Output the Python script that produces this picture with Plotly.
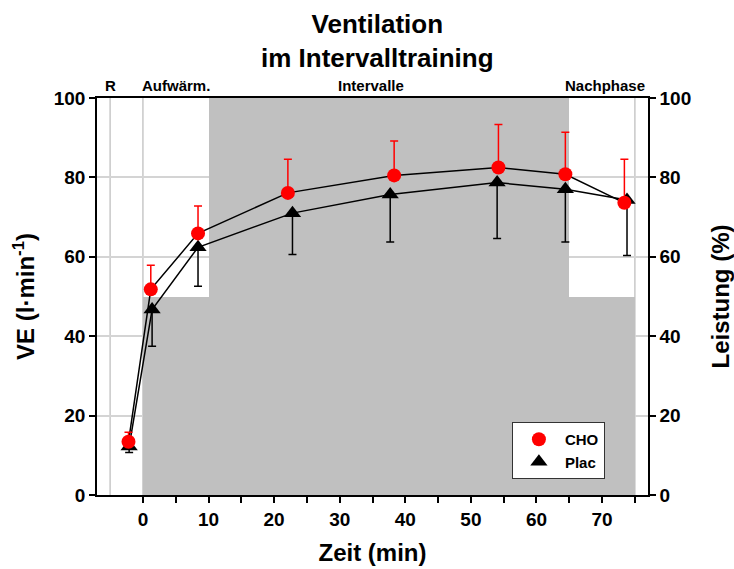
import plotly.graph_objects as go

# ---- data ----
time_cho = [-2.2, 1.2, 8.4, 22.1, 38.3, 54.2, 64.4, 73.4]
ve_cho = [13.4, 51.8, 65.9, 76.1, 80.5, 82.5, 80.8, 73.6]
sd_cho = [2.4, 6.1, 6.9, 8.5, 8.7, 10.8, 10.6, 11.0]

time_plac = [-2.1, 1.4, 8.4, 22.8, 37.7, 54.0, 64.4, 73.8]
ve_plac = [12.2, 46.7, 62.4, 71.0, 75.7, 78.7, 77.0, 74.3]
sd_plac = [1.5, 9.2, 9.8, 10.4, 12.0, 14.1, 13.3, 14.0]

# work-load phases (Leistung %)
phase_start = [0, 10, 65]
phase_end = [10, 65, 75]
leistung = [50, 100, 50]

phase_names = ["R", "Aufwärm.", "Intervalle", "Nachphase"]
phase_label_x = [-5, 5, 34.7, 70.5]
phase_lines = [-5, 0, 75]

x_ticks = list(range(0, 80, 5))
y_ticks = [0, 20, 40, 60, 80, 100]

FONT = "Liberation Sans, Arial, Helvetica, sans-serif"
TICK = 19
AXT = 24

fig = go.Figure()

centers = [(a + b) / 2 for a, b in zip(phase_start, phase_end)]
widths = [b - a for a, b in zip(phase_start, phase_end)]
fig.add_trace(go.Bar(x=centers, y=leistung, width=widths,
                     marker=dict(color="#c0c0c0", line=dict(width=0)),
                     showlegend=False, hoverinfo="skip"))

# Plac
fig.add_trace(go.Scatter(x=time_plac, y=ve_plac, mode="lines",
                         line=dict(color="black", width=1.5),
                         showlegend=False, hoverinfo="skip"))
fig.add_trace(go.Scatter(
    x=time_plac, y=ve_plac, mode="markers", name="Plac",
    marker=dict(symbol="triangle-up", size=15, color="black"),
    error_y=dict(type="data", array=[0] * len(sd_plac), arrayminus=sd_plac,
                 symmetric=False, color="black", thickness=1.5, width=4),
    legendrank=2))

# CHO
fig.add_trace(go.Scatter(x=time_cho, y=ve_cho, mode="lines",
                         line=dict(color="black", width=1.5),
                         showlegend=False, hoverinfo="skip"))
fig.add_trace(go.Scatter(
    x=time_cho, y=ve_cho, mode="markers", name="CHO",
    marker=dict(symbol="circle", size=14, color="#ff0000"),
    error_y=dict(type="data", array=sd_cho, arrayminus=[0] * len(sd_cho),
                 symmetric=False, color="#ff0000", thickness=1.5, width=4),
    legendrank=1))

# invisible trace so the right axis is drawn
fig.add_trace(go.Scatter(x=[centers[0]], y=[leistung[0]], yaxis="y2",
                         mode="markers", marker=dict(opacity=0),
                         showlegend=False, hoverinfo="skip"))

for xv in phase_lines:
    fig.add_shape(type="line", xref="x", yref="paper", x0=xv, x1=xv, y0=0, y1=1,
                  line=dict(color="#c8c8c8", width=1.5), layer="below")

for name, xv in zip(phase_names, phase_label_x):
    fig.add_annotation(x=xv, y=1, xref="x", yref="paper", text="<b>%s</b>" % name,
                       showarrow=False, yanchor="bottom", yshift=2,
                       font=dict(family=FONT, size=15, color="black"))

# title
fig.add_annotation(x=0.5, y=1, xref="paper", yref="paper",
                   text="<b>Ventilation<br>im Intervalltraining</b>",
                   showarrow=False, yanchor="bottom", xanchor="center",
                   yshift=23, xshift=5,
                   font=dict(family=FONT, size=26, color="black"))

fig.update_layout(
    width=734, height=569,
    margin=dict(l=97, r=86, t=98, b=74, autoexpand=False),
    paper_bgcolor="white", plot_bgcolor="white",
    font=dict(family=FONT, color="black"),
    bargap=0,
    showlegend=True,
    legend=dict(x=0.753, y=0.184, xanchor="left", yanchor="top",
                bgcolor="white", bordercolor="#333333", borderwidth=1,
                font=dict(family=FONT, size=15, color="black", weight="bold"),
                tracegroupgap=0, itemwidth=42),
    xaxis=dict(range=[-7, 77], tickmode="array", tickvals=x_ticks,
               ticktext=["<b>%d</b>" % v if v % 10 == 0 and v < 75 else " " for v in x_ticks],
               ticks="outside", ticklen=6, tickwidth=1.5, tickcolor="black",
               showline=True, linecolor="black", linewidth=1.5, mirror=True,
               showgrid=False, zeroline=False, automargin=False,
               tickfont=dict(family=FONT, size=TICK, color="black"),
               title=dict(text="<b>Zeit (min)</b>", standoff=16,
                          font=dict(family=FONT, size=AXT, color="black"))),
    yaxis=dict(range=[0, 100], tickmode="array", tickvals=y_ticks,
               ticktext=["<b>%d</b>" % v for v in y_ticks],
               ticks="outside", ticklen=6, tickwidth=1.5, tickcolor="black",
               showline=True, linecolor="black", linewidth=1.5,
               showgrid=True, gridcolor="#d4d4d4", gridwidth=1.5, zeroline=False,
               automargin=False,
               tickfont=dict(family=FONT, size=TICK, color="black"),
               title=dict(text="<b>VE (l·min<sup>-1</sup>)</b>", standoff=12,
                          font=dict(family=FONT, size=AXT, color="black"))),
    yaxis2=dict(range=[0, 100], overlaying="y", side="right", tickmode="array",
                tickvals=y_ticks, ticktext=["<b>%d</b>" % v for v in y_ticks],
                ticks="outside", ticklen=6, tickwidth=1.5, tickcolor="black",
                showline=True, linecolor="black", linewidth=1.5,
                showgrid=False, zeroline=False, automargin=False,
                tickfont=dict(family=FONT, size=TICK, color="black"),
                title=dict(text="<b>Leistung (%)</b>", standoff=22,
                           font=dict(family=FONT, size=AXT, color="black"))),
)

fig.write_html("out.html")
